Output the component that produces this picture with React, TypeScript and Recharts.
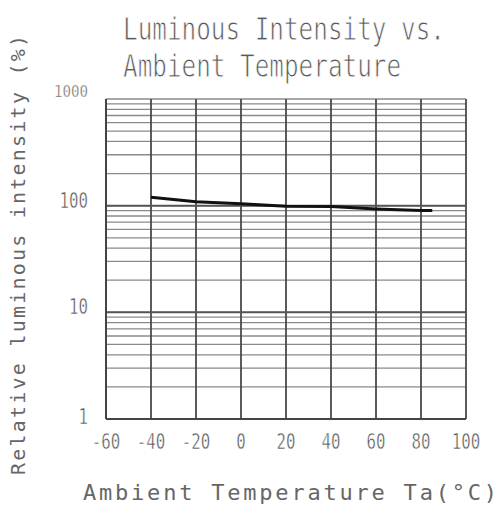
import React from "react";
import {
  LineChart,
  Line,
  XAxis,
  YAxis,
  CartesianGrid,
  ReferenceLine,
} from "recharts";

const temps = [-40, -20, 0, 20, 40, 60, 80, 85];
const intensity = [120, 109, 104, 99, 98, 93, 90, 90];

const xTicks = [-60, -40, -20, 0, 20, 40, 60, 80, 100];
const yTicks = [
  1, 2, 3, 4, 5, 6, 7, 8, 9,
  10, 20, 30, 40, 50, 60, 70, 80, 90,
  100, 200, 300, 400, 500, 600, 700, 800, 900,
  1000,
];
const yLabels = [1, 10, 100, 1000];
const decadeLines = [10, 100];

const data = temps.map((t, i) => ({ t, v: intensity[i] }));

const FONT = "'DejaVu Sans Mono', monospace";
const INK = "#555";

function XTick(props: any) {
  const { x, y, payload } = props;
  const s = String(payload.value);
  return (
    <text
      x={x}
      y={y + 22}
      textAnchor="middle"
      fill={INK}
      stroke="#fff"
      strokeWidth={0.5}
      fontFamily={FONT}
      fontSize={21}
      textLength={s.length * 9.5}
      lengthAdjust="spacingAndGlyphs"
    >
      {s}
    </text>
  );
}

function YTick(props: any) {
  const { x, y, payload } = props;
  const v = payload.value;
  if (!yLabels.includes(v)) return <g />;
  const s = String(v);
  const big = v !== 1000;
  return (
    <text
      x={x - 10}
      y={y + (v === 1 ? 5 : v === 1000 ? -2 : 2)}
      textAnchor="end"
      fill={INK}
      stroke="#fff"
      strokeWidth={0.5}
      fontFamily={FONT}
      fontSize={big ? 21 : 16}
      textLength={s.length * (big ? 9.5 : 8.5)}
      lengthAdjust="spacingAndGlyphs"
    >
      {s}
    </text>
  );
}

export default function App() {
  return (
    <div style={{ position: "absolute", left: 0, top: 0, width: 497, height: 506, background: "#fff" }}>
      <LineChart
        width={497}
        height={506}
        data={data}
        margin={{ top: 99, right: 31, bottom: 57, left: 66 }}
      >
        <CartesianGrid vertical={false} stroke="#8a8a8a" strokeWidth={1.3} />
        <CartesianGrid horizontal={false} stroke="#4a4a4a" strokeWidth={1.8} />
        {decadeLines.map((d) => (
          <ReferenceLine key={d} y={d} stroke="#555" strokeWidth={2} />
        ))}
        <XAxis
          type="number"
          dataKey="t"
          domain={[-60, 100]}
          ticks={xTicks}
          axisLine={false}
          tickLine={false}
          height={30}
          tick={<XTick />}
          interval={0}
        />
        <YAxis
          type="number"
          scale="log"
          domain={[1, 1000]}
          ticks={yTicks}
          allowDataOverflow
          axisLine={false}
          tickLine={false}
          width={40}
          tick={<YTick />}
          interval={0}
        />
        <ReferenceLine y={1} stroke="#444" strokeWidth={2} />
        <ReferenceLine x={-60} stroke="#444" strokeWidth={2} />
        <Line
          type="linear"
          dataKey="v"
          stroke="#111"
          strokeWidth={3}
          dot={false}
          isAnimationActive={false}
        />
      </LineChart>
      <svg
        width={497}
        height={506}
        style={{ position: "absolute", left: 0, top: 0, pointerEvents: "none" }}
      >
        <g fill="#5a5a5a" stroke="#fff" strokeWidth={0.9} fontFamily={FONT} fontSize={32}>
          <text transform="translate(123,40) scale(0.76,1)" x={0} y={0}>
            Luminous Intensity vs.
          </text>
          <text transform="translate(123,77) scale(0.76,1)" x={0} y={0}>
            Ambient Temperature
          </text>
        </g>
        <text
          transform="translate(25,255) rotate(-90)"
          textAnchor="middle"
          fill="#666"
          fontFamily={FONT}
          fontSize={20}
          textLength={440}
          lengthAdjust="spacing"
        >
          Relative luminous intensity (%)
        </text>
        <text
          x={83}
          y={500}
          fill="#666"
          fontFamily={FONT}
          fontSize={22}
          textLength={414}
          lengthAdjust="spacing"
        >
          Ambient Temperature Ta(°C)
        </text>
      </svg>
    </div>
  );
}
